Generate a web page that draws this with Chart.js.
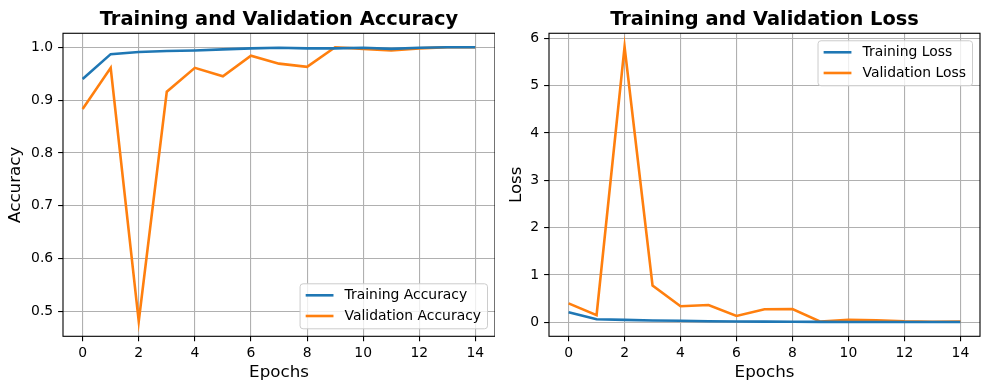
<!DOCTYPE html>
<html lang="en">
<head>
<meta charset="UTF-8">
<title>Training and Validation</title>
<script src="https://cdn.jsdelivr.net/npm/chart.js@4"></script>
<style>
  html, body { margin: 0; padding: 0; background: #fff; }
  #wrap { position: relative; width: 990px; height: 390px; }
  canvas { position: absolute; top: 0; }
</style>
</head>
<body>
<div id="wrap">
  <canvas id="accChart" width="495" height="390" style="left:0"></canvas>
  <canvas id="lossChart" width="495" height="390" style="left:495px"></canvas>
</div>
<script>
// values
const epochs = [0, 1, 2, 3, 4, 5, 6, 7, 8, 9, 10, 11, 12, 13, 14];
const trainAcc = [0.940, 0.987, 0.991, 0.993, 0.994, 0.996, 0.998, 0.999, 0.998, 0.998, 0.999, 0.997, 0.999, 1.000, 1.000];
const valAcc = [0.883, 0.961, 0.481, 0.916, 0.961, 0.945, 0.984, 0.969, 0.963, 1.000, 0.997, 0.994, 0.998, 1.000, 1.000];
const trainLoss = [0.21, 0.063, 0.05, 0.037, 0.032, 0.022, 0.016, 0.013, 0.011, 0.009, 0.007, 0.006, 0.006, 0.005, 0.005];
const valLoss = [0.40, 0.15, 5.82, 0.775, 0.34, 0.366, 0.134, 0.275, 0.28, 0.015, 0.05, 0.042, 0.02, 0.012, 0.015];
const epochTicks = [0, 2, 4, 6, 8, 10, 12, 14];
const accTicks = [0.5, 0.6, 0.7, 0.8, 0.9, 1.0];
const lossTicks = [0, 1, 2, 3, 4, 5, 6];

const BLUE = '#1f77b4';
const ORANGE = '#ff7f0e';
const FONT = 'DejaVu Sans';

function points(ys) {
    return epochs.map((x, i) => ({ x: x, y: ys[i] }));
}

// black box round the plot area, like matplotlib spines
const framePlugin = {
    id: 'frame',
    afterDatasetsDraw(chart) {
        const a = chart.chartArea;
        const ctx = chart.ctx;
        ctx.save();
        ctx.strokeStyle = '#000';
        ctx.lineWidth = 1.1;
        ctx.strokeRect(a.left, a.top, a.right - a.left, a.bottom - a.top);
        ctx.restore();
    }
};

// framed legend inside the axes
const boxLegendPlugin = {
    id: 'boxLegend',
    afterDraw(chart, args, opts) {
        const ctx = chart.ctx;
        const a = chart.chartArea;
        const sets = chart.data.datasets;
        ctx.save();
        ctx.font = '13.9px "' + FONT + '"';
        let textW = 0;
        sets.forEach(ds => { textW = Math.max(textW, ctx.measureText(ds.label).width); });
        const w = textW + 51;
        const h = 45;
        const x = a.right - 7.5 - w;
        const y = opts.corner === 'upper right' ? a.top + 7.5 : a.bottom - 7.5 - h;

        ctx.beginPath();
        ctx.roundRect(x, y, w, h, 3);
        ctx.fillStyle = 'rgba(255,255,255,0.8)';
        ctx.fill();
        ctx.strokeStyle = '#cccccc';
        ctx.lineWidth = 1;
        ctx.stroke();

        sets.forEach((ds, i) => {
            const ry = y + 11.5 + i * 20.7;
            ctx.beginPath();
            ctx.moveTo(x + 5.6, ry);
            ctx.lineTo(x + 33.4, ry);
            ctx.strokeStyle = ds.borderColor;
            ctx.lineWidth = ds.borderWidth;
            ctx.stroke();
            ctx.fillStyle = '#000';
            ctx.textBaseline = 'middle';
            ctx.textAlign = 'left';
            ctx.fillText(ds.label, x + 44.5, ry + 0.5);
        });
        ctx.restore();
    }
};

function makeChart(id, title, yLabel, series, labels, yMin, yMax, yTicks, yFmt, yWidth, yTitlePad, rightPad, corner) {
    return new Chart(document.getElementById(id), {
        type: 'line',
        data: {
            datasets: [
                { label: labels[0], data: points(series[0]), borderColor: BLUE, borderWidth: 2.6, pointRadius: 0, tension: 0 },
                { label: labels[1], data: points(series[1]), borderColor: ORANGE, borderWidth: 2.6, pointRadius: 0, tension: 0 }
            ]
        },
        options: {
            responsive: false,
            animation: false,
            layout: { padding: { left: 0, right: rightPad, top: 0, bottom: 0 } },
            plugins: {
                legend: { display: false },
                tooltip: { enabled: false },
                title: {
                    display: true,
                    fullSize: false,
                    text: title,
                    color: '#000',
                    font: { family: FONT, size: 19.4, weight: 'bold' },
                    padding: { top: 8, bottom: 2 }
                },
                boxLegend: { corner: corner }
            },
            scales: {
                x: {
                    type: 'linear',
                    min: -0.7,
                    max: 14.7,
                    afterBuildTicks: s => { s.ticks = epochTicks.map(v => ({ value: v })); },
                    afterFit: s => { s.height = 53.7; },
                    ticks: { color: '#000', font: { family: FONT, size: 13.9 }, padding: 3.5, maxRotation: 0 },
                    grid: { color: '#b0b0b0', lineWidth: 1.1, tickColor: '#000', tickLength: 4.9 },
                    border: { display: false },
                    title: {
                        display: true, text: 'Epochs', color: '#000',
                        font: { family: FONT, size: 16.7 }, padding: { bottom: 7.5 }
                    }
                },
                y: {
                    min: yMin,
                    max: yMax,
                    afterBuildTicks: s => { s.ticks = yTicks.map(v => ({ value: v })); },
                    afterFit: s => { s.width = yWidth; },
                    ticks: { color: '#000', font: { family: FONT, size: 13.9 }, padding: 4.9, callback: yFmt },
                    grid: { color: '#b0b0b0', lineWidth: 1.1, tickColor: '#000', tickLength: 4.9 },
                    border: { display: false },
                    title: {
                        display: true, text: yLabel, color: '#000',
                        font: { family: FONT, size: 16.7 }, padding: { top: yTitlePad }
                    }
                }
            }
        },
        plugins: [framePlugin, boxLegendPlugin]
    });
}

makeChart('accChart', 'Training and Validation Accuracy', 'Accuracy',
    [trainAcc, valAcc], ['Training Accuracy', 'Validation Accuracy'],
    0.4527, 1.0265, accTicks, v => v.toFixed(1), 63, 6, 0, 'lower right');

makeChart('lossChart', 'Training and Validation Loss', 'Loss',
    [trainLoss, valLoss], ['Training Loss', 'Validation Loss'],
    -0.296, 6.106, lossTicks, v => String(v), 54, 12, 10, 'upper right');
</script>
</body>
</html>
